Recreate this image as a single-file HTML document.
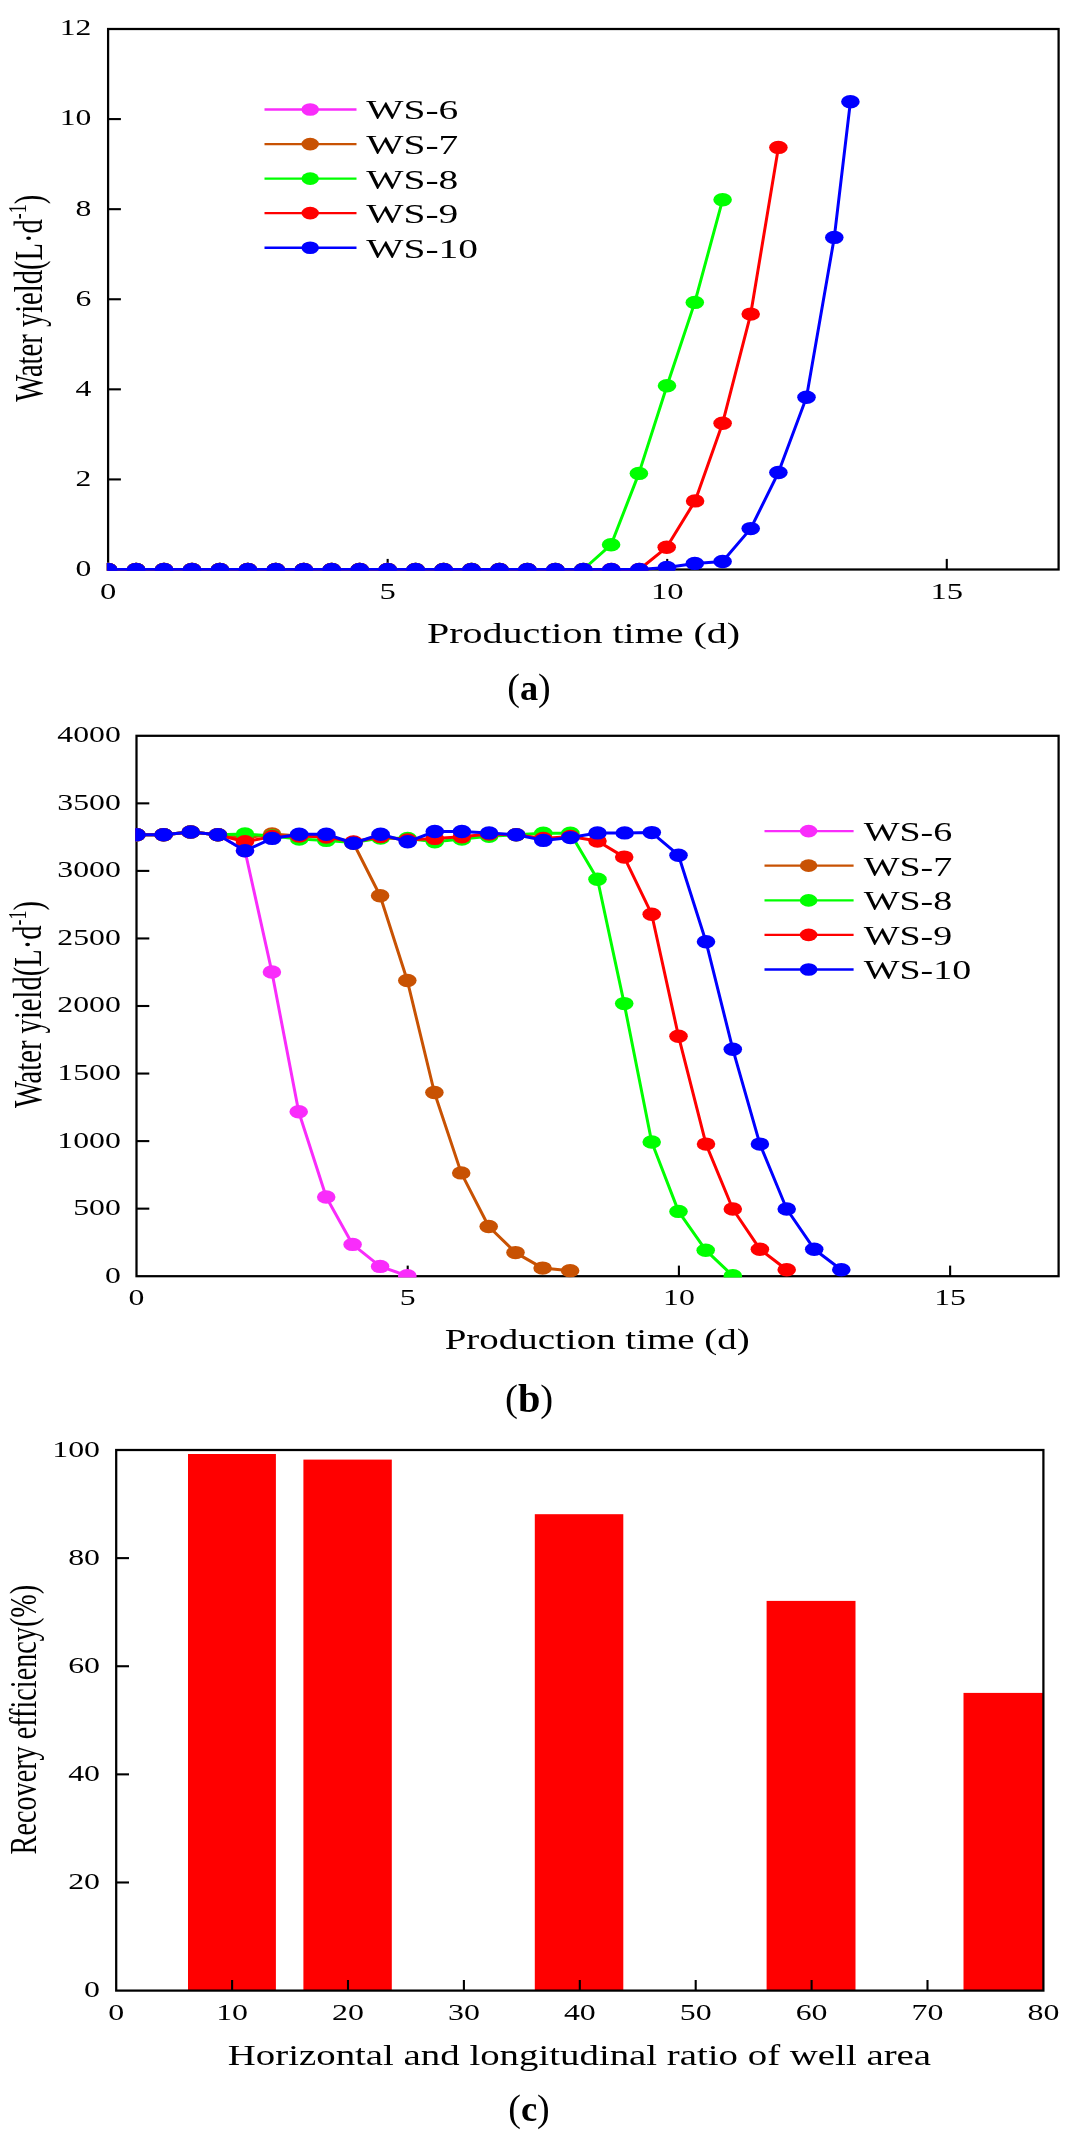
<!DOCTYPE html>
<html><head><meta charset="utf-8"><title>Figure</title>
<style>
html,body{margin:0;padding:0;background:#fff;}
body{width:1077px;height:2148px;overflow:hidden;font-family:"Liberation Serif",serif;}
svg{display:block;filter:blur(0.45px);}
svg text{font-family:"Liberation Serif",serif;fill:#000;}
</style></head>
<body>
<svg width="1077" height="2148" viewBox="0 0 1077 2148">
<rect width="1077" height="2148" fill="#fff"/>
<clipPath id="ca"><rect x="106.8" y="27.7" width="953.10" height="543.10"/></clipPath>
<rect x="108.1" y="29.0" width="950.50" height="540.50" fill="none" stroke="#000" stroke-width="2.25"/>
<line x1="387.66" y1="569.5" x2="387.66" y2="558.9" stroke="#000" stroke-width="2.1"/>
<line x1="667.22" y1="569.5" x2="667.22" y2="558.9" stroke="#000" stroke-width="2.1"/>
<line x1="946.78" y1="569.5" x2="946.78" y2="558.9" stroke="#000" stroke-width="2.1"/>
<line x1="108.1" y1="479.42" x2="120.89999999999999" y2="479.42" stroke="#000" stroke-width="2.1"/>
<line x1="108.1" y1="389.33" x2="120.89999999999999" y2="389.33" stroke="#000" stroke-width="2.1"/>
<line x1="108.1" y1="299.25" x2="120.89999999999999" y2="299.25" stroke="#000" stroke-width="2.1"/>
<line x1="108.1" y1="209.17" x2="120.89999999999999" y2="209.17" stroke="#000" stroke-width="2.1"/>
<line x1="108.1" y1="119.08" x2="120.89999999999999" y2="119.08" stroke="#000" stroke-width="2.1"/>
<text transform="translate(91.40,575.90) scale(1.32,1)" font-size="24" text-anchor="end" font-weight="normal" >0</text>
<text transform="translate(91.40,485.82) scale(1.32,1)" font-size="24" text-anchor="end" font-weight="normal" >2</text>
<text transform="translate(91.40,395.73) scale(1.32,1)" font-size="24" text-anchor="end" font-weight="normal" >4</text>
<text transform="translate(91.40,305.65) scale(1.32,1)" font-size="24" text-anchor="end" font-weight="normal" >6</text>
<text transform="translate(91.40,215.57) scale(1.32,1)" font-size="24" text-anchor="end" font-weight="normal" >8</text>
<text transform="translate(91.40,125.48) scale(1.32,1)" font-size="24" text-anchor="end" font-weight="normal" >10</text>
<text transform="translate(91.40,35.40) scale(1.32,1)" font-size="24" text-anchor="end" font-weight="normal" >12</text>
<text transform="translate(108.10,598.60) scale(1.358,1)" font-size="24" text-anchor="middle" font-weight="normal" >0</text>
<text transform="translate(387.66,598.60) scale(1.358,1)" font-size="24" text-anchor="middle" font-weight="normal" >5</text>
<text transform="translate(667.22,598.60) scale(1.358,1)" font-size="24" text-anchor="middle" font-weight="normal" >10</text>
<text transform="translate(946.78,598.60) scale(1.358,1)" font-size="24" text-anchor="middle" font-weight="normal" >15</text>
<text transform="translate(583.50,643.00) scale(1.404,1)" font-size="28.5" text-anchor="middle" font-weight="normal" >Production time (d)</text>
<text transform="translate(529.00,700.30) scale(1.0,1)" font-size="38" text-anchor="middle" font-weight="normal" >(<tspan font-weight="bold" font-size="36.3" dy="0">a</tspan><tspan dy="0">)</tspan></text>
<text transform="translate(41.80,401.80) rotate(-90) scale(1,1.42)" font-size="28.6" text-anchor="start">Water yield(L·d<tspan font-size="18" dy="-11.4">-1</tspan><tspan dy="11.4">)</tspan></text>
<g clip-path="url(#ca)"><path d="M108.1 569.5 L136.1 569.5 L164.0 569.5 L192.0 569.5 L219.9 569.5 L247.9 569.5 L275.8 569.5 L303.8 569.5 L331.7 569.5 L359.7 569.5 L387.7 569.5" fill="none" stroke="#f92cfb" stroke-width="3.0" stroke-linejoin="round"/><ellipse cx="108.1" cy="569.5" rx="9.3" ry="6.7" fill="#f92cfb"/><ellipse cx="136.1" cy="569.5" rx="9.3" ry="6.7" fill="#f92cfb"/><ellipse cx="164.0" cy="569.5" rx="9.3" ry="6.7" fill="#f92cfb"/><ellipse cx="192.0" cy="569.5" rx="9.3" ry="6.7" fill="#f92cfb"/><ellipse cx="219.9" cy="569.5" rx="9.3" ry="6.7" fill="#f92cfb"/><ellipse cx="247.9" cy="569.5" rx="9.3" ry="6.7" fill="#f92cfb"/><ellipse cx="275.8" cy="569.5" rx="9.3" ry="6.7" fill="#f92cfb"/><ellipse cx="303.8" cy="569.5" rx="9.3" ry="6.7" fill="#f92cfb"/><ellipse cx="331.7" cy="569.5" rx="9.3" ry="6.7" fill="#f92cfb"/><ellipse cx="359.7" cy="569.5" rx="9.3" ry="6.7" fill="#f92cfb"/><ellipse cx="387.7" cy="569.5" rx="9.3" ry="6.7" fill="#f92cfb"/></g>
<g clip-path="url(#ca)"><path d="M108.1 569.5 L136.1 569.5 L164.0 569.5 L192.0 569.5 L219.9 569.5 L247.9 569.5 L275.8 569.5 L303.8 569.5 L331.7 569.5 L359.7 569.5 L387.7 569.5 L415.6 569.5 L443.6 569.5 L471.5 569.5 L499.5 569.5" fill="none" stroke="#c85203" stroke-width="3.0" stroke-linejoin="round"/><ellipse cx="108.1" cy="569.5" rx="9.3" ry="6.7" fill="#c85203"/><ellipse cx="136.1" cy="569.5" rx="9.3" ry="6.7" fill="#c85203"/><ellipse cx="164.0" cy="569.5" rx="9.3" ry="6.7" fill="#c85203"/><ellipse cx="192.0" cy="569.5" rx="9.3" ry="6.7" fill="#c85203"/><ellipse cx="219.9" cy="569.5" rx="9.3" ry="6.7" fill="#c85203"/><ellipse cx="247.9" cy="569.5" rx="9.3" ry="6.7" fill="#c85203"/><ellipse cx="275.8" cy="569.5" rx="9.3" ry="6.7" fill="#c85203"/><ellipse cx="303.8" cy="569.5" rx="9.3" ry="6.7" fill="#c85203"/><ellipse cx="331.7" cy="569.5" rx="9.3" ry="6.7" fill="#c85203"/><ellipse cx="359.7" cy="569.5" rx="9.3" ry="6.7" fill="#c85203"/><ellipse cx="387.7" cy="569.5" rx="9.3" ry="6.7" fill="#c85203"/><ellipse cx="415.6" cy="569.5" rx="9.3" ry="6.7" fill="#c85203"/><ellipse cx="443.6" cy="569.5" rx="9.3" ry="6.7" fill="#c85203"/><ellipse cx="471.5" cy="569.5" rx="9.3" ry="6.7" fill="#c85203"/><ellipse cx="499.5" cy="569.5" rx="9.3" ry="6.7" fill="#c85203"/></g>
<g clip-path="url(#ca)"><path d="M108.1 569.5 L136.1 569.5 L164.0 569.5 L192.0 569.5 L219.9 569.5 L247.9 569.5 L275.8 569.5 L303.8 569.5 L331.7 569.5 L359.7 569.5 L387.7 569.5 L415.6 569.5 L443.6 569.5 L471.5 569.5 L499.5 569.5 L527.4 569.5 L555.4 569.5 L583.3 569.5 L611.1 544.7 L638.9 473.4 L667.0 385.7 L694.8 302.4 L722.6 199.8" fill="none" stroke="#00ff00" stroke-width="3.0" stroke-linejoin="round"/><ellipse cx="108.1" cy="569.5" rx="9.3" ry="6.7" fill="#00ff00"/><ellipse cx="136.1" cy="569.5" rx="9.3" ry="6.7" fill="#00ff00"/><ellipse cx="164.0" cy="569.5" rx="9.3" ry="6.7" fill="#00ff00"/><ellipse cx="192.0" cy="569.5" rx="9.3" ry="6.7" fill="#00ff00"/><ellipse cx="219.9" cy="569.5" rx="9.3" ry="6.7" fill="#00ff00"/><ellipse cx="247.9" cy="569.5" rx="9.3" ry="6.7" fill="#00ff00"/><ellipse cx="275.8" cy="569.5" rx="9.3" ry="6.7" fill="#00ff00"/><ellipse cx="303.8" cy="569.5" rx="9.3" ry="6.7" fill="#00ff00"/><ellipse cx="331.7" cy="569.5" rx="9.3" ry="6.7" fill="#00ff00"/><ellipse cx="359.7" cy="569.5" rx="9.3" ry="6.7" fill="#00ff00"/><ellipse cx="387.7" cy="569.5" rx="9.3" ry="6.7" fill="#00ff00"/><ellipse cx="415.6" cy="569.5" rx="9.3" ry="6.7" fill="#00ff00"/><ellipse cx="443.6" cy="569.5" rx="9.3" ry="6.7" fill="#00ff00"/><ellipse cx="471.5" cy="569.5" rx="9.3" ry="6.7" fill="#00ff00"/><ellipse cx="499.5" cy="569.5" rx="9.3" ry="6.7" fill="#00ff00"/><ellipse cx="527.4" cy="569.5" rx="9.3" ry="6.7" fill="#00ff00"/><ellipse cx="555.4" cy="569.5" rx="9.3" ry="6.7" fill="#00ff00"/><ellipse cx="583.3" cy="569.5" rx="9.3" ry="6.7" fill="#00ff00"/><ellipse cx="611.1" cy="544.7" rx="9.3" ry="6.7" fill="#00ff00"/><ellipse cx="638.9" cy="473.4" rx="9.3" ry="6.7" fill="#00ff00"/><ellipse cx="667.0" cy="385.7" rx="9.3" ry="6.7" fill="#00ff00"/><ellipse cx="694.8" cy="302.4" rx="9.3" ry="6.7" fill="#00ff00"/><ellipse cx="722.6" cy="199.8" rx="9.3" ry="6.7" fill="#00ff00"/></g>
<g clip-path="url(#ca)"><path d="M108.1 569.5 L136.1 569.5 L164.0 569.5 L192.0 569.5 L219.9 569.5 L247.9 569.5 L275.8 569.5 L303.8 569.5 L331.7 569.5 L359.7 569.5 L387.7 569.5 L415.6 569.5 L443.6 569.5 L471.5 569.5 L499.5 569.5 L527.4 569.5 L555.4 569.5 L583.3 569.5 L611.3 569.5 L639.3 569.5 L666.7 547.3 L695.1 500.9 L722.6 423.2 L750.7 314.1 L778.4 147.4" fill="none" stroke="#ff0000" stroke-width="3.0" stroke-linejoin="round"/><ellipse cx="108.1" cy="569.5" rx="9.3" ry="6.7" fill="#ff0000"/><ellipse cx="136.1" cy="569.5" rx="9.3" ry="6.7" fill="#ff0000"/><ellipse cx="164.0" cy="569.5" rx="9.3" ry="6.7" fill="#ff0000"/><ellipse cx="192.0" cy="569.5" rx="9.3" ry="6.7" fill="#ff0000"/><ellipse cx="219.9" cy="569.5" rx="9.3" ry="6.7" fill="#ff0000"/><ellipse cx="247.9" cy="569.5" rx="9.3" ry="6.7" fill="#ff0000"/><ellipse cx="275.8" cy="569.5" rx="9.3" ry="6.7" fill="#ff0000"/><ellipse cx="303.8" cy="569.5" rx="9.3" ry="6.7" fill="#ff0000"/><ellipse cx="331.7" cy="569.5" rx="9.3" ry="6.7" fill="#ff0000"/><ellipse cx="359.7" cy="569.5" rx="9.3" ry="6.7" fill="#ff0000"/><ellipse cx="387.7" cy="569.5" rx="9.3" ry="6.7" fill="#ff0000"/><ellipse cx="415.6" cy="569.5" rx="9.3" ry="6.7" fill="#ff0000"/><ellipse cx="443.6" cy="569.5" rx="9.3" ry="6.7" fill="#ff0000"/><ellipse cx="471.5" cy="569.5" rx="9.3" ry="6.7" fill="#ff0000"/><ellipse cx="499.5" cy="569.5" rx="9.3" ry="6.7" fill="#ff0000"/><ellipse cx="527.4" cy="569.5" rx="9.3" ry="6.7" fill="#ff0000"/><ellipse cx="555.4" cy="569.5" rx="9.3" ry="6.7" fill="#ff0000"/><ellipse cx="583.3" cy="569.5" rx="9.3" ry="6.7" fill="#ff0000"/><ellipse cx="611.3" cy="569.5" rx="9.3" ry="6.7" fill="#ff0000"/><ellipse cx="639.3" cy="569.5" rx="9.3" ry="6.7" fill="#ff0000"/><ellipse cx="666.7" cy="547.3" rx="9.3" ry="6.7" fill="#ff0000"/><ellipse cx="695.1" cy="500.9" rx="9.3" ry="6.7" fill="#ff0000"/><ellipse cx="722.6" cy="423.2" rx="9.3" ry="6.7" fill="#ff0000"/><ellipse cx="750.7" cy="314.1" rx="9.3" ry="6.7" fill="#ff0000"/><ellipse cx="778.4" cy="147.4" rx="9.3" ry="6.7" fill="#ff0000"/></g>
<g clip-path="url(#ca)"><path d="M108.1 569.5 L136.1 569.5 L164.0 569.5 L192.0 569.5 L219.9 569.5 L247.9 569.5 L275.8 569.5 L303.8 569.5 L331.7 569.5 L359.7 569.5 L387.7 569.5 L415.6 569.5 L443.6 569.5 L471.5 569.5 L499.5 569.5 L527.4 569.5 L555.4 569.5 L583.3 569.5 L611.3 569.5 L639.3 569.5 L666.9 567.4 L694.8 563.4 L722.6 561.5 L750.7 528.6 L778.4 472.5 L806.5 397.3 L834.3 237.4 L850.4 101.7" fill="none" stroke="#0000ff" stroke-width="3.0" stroke-linejoin="round"/><ellipse cx="108.1" cy="569.5" rx="9.3" ry="6.7" fill="#0000ff"/><ellipse cx="136.1" cy="569.5" rx="9.3" ry="6.7" fill="#0000ff"/><ellipse cx="164.0" cy="569.5" rx="9.3" ry="6.7" fill="#0000ff"/><ellipse cx="192.0" cy="569.5" rx="9.3" ry="6.7" fill="#0000ff"/><ellipse cx="219.9" cy="569.5" rx="9.3" ry="6.7" fill="#0000ff"/><ellipse cx="247.9" cy="569.5" rx="9.3" ry="6.7" fill="#0000ff"/><ellipse cx="275.8" cy="569.5" rx="9.3" ry="6.7" fill="#0000ff"/><ellipse cx="303.8" cy="569.5" rx="9.3" ry="6.7" fill="#0000ff"/><ellipse cx="331.7" cy="569.5" rx="9.3" ry="6.7" fill="#0000ff"/><ellipse cx="359.7" cy="569.5" rx="9.3" ry="6.7" fill="#0000ff"/><ellipse cx="387.7" cy="569.5" rx="9.3" ry="6.7" fill="#0000ff"/><ellipse cx="415.6" cy="569.5" rx="9.3" ry="6.7" fill="#0000ff"/><ellipse cx="443.6" cy="569.5" rx="9.3" ry="6.7" fill="#0000ff"/><ellipse cx="471.5" cy="569.5" rx="9.3" ry="6.7" fill="#0000ff"/><ellipse cx="499.5" cy="569.5" rx="9.3" ry="6.7" fill="#0000ff"/><ellipse cx="527.4" cy="569.5" rx="9.3" ry="6.7" fill="#0000ff"/><ellipse cx="555.4" cy="569.5" rx="9.3" ry="6.7" fill="#0000ff"/><ellipse cx="583.3" cy="569.5" rx="9.3" ry="6.7" fill="#0000ff"/><ellipse cx="611.3" cy="569.5" rx="9.3" ry="6.7" fill="#0000ff"/><ellipse cx="639.3" cy="569.5" rx="9.3" ry="6.7" fill="#0000ff"/><ellipse cx="666.9" cy="567.4" rx="9.3" ry="6.7" fill="#0000ff"/><ellipse cx="694.8" cy="563.4" rx="9.3" ry="6.7" fill="#0000ff"/><ellipse cx="722.6" cy="561.5" rx="9.3" ry="6.7" fill="#0000ff"/><ellipse cx="750.7" cy="528.6" rx="9.3" ry="6.7" fill="#0000ff"/><ellipse cx="778.4" cy="472.5" rx="9.3" ry="6.7" fill="#0000ff"/><ellipse cx="806.5" cy="397.3" rx="9.3" ry="6.7" fill="#0000ff"/><ellipse cx="834.3" cy="237.4" rx="9.3" ry="6.7" fill="#0000ff"/><ellipse cx="850.4" cy="101.7" rx="9.3" ry="6.7" fill="#0000ff"/></g>
<line x1="264.5" y1="109.5" x2="356.5" y2="109.5" stroke="#f92cfb" stroke-width="2.4"/><ellipse cx="310.2" cy="109.5" rx="8.8" ry="6.3" fill="#f92cfb"/><text transform="translate(366.30,119.40) scale(1.46,1)" font-size="27" text-anchor="start" font-weight="normal" >WS-6</text><line x1="264.5" y1="144.1" x2="356.5" y2="144.1" stroke="#c85203" stroke-width="2.4"/><ellipse cx="310.2" cy="144.1" rx="8.8" ry="6.3" fill="#c85203"/><text transform="translate(366.30,154.00) scale(1.46,1)" font-size="27" text-anchor="start" font-weight="normal" >WS-7</text><line x1="264.5" y1="178.6" x2="356.5" y2="178.6" stroke="#00ff00" stroke-width="2.4"/><ellipse cx="310.2" cy="178.6" rx="8.8" ry="6.3" fill="#00ff00"/><text transform="translate(366.30,188.50) scale(1.46,1)" font-size="27" text-anchor="start" font-weight="normal" >WS-8</text><line x1="264.5" y1="213.1" x2="356.5" y2="213.1" stroke="#ff0000" stroke-width="2.4"/><ellipse cx="310.2" cy="213.1" rx="8.8" ry="6.3" fill="#ff0000"/><text transform="translate(366.30,223.00) scale(1.46,1)" font-size="27" text-anchor="start" font-weight="normal" >WS-9</text><line x1="264.5" y1="247.7" x2="356.5" y2="247.7" stroke="#0000ff" stroke-width="2.4"/><ellipse cx="310.2" cy="247.7" rx="8.8" ry="6.3" fill="#0000ff"/><text transform="translate(366.30,257.60) scale(1.46,1)" font-size="27" text-anchor="start" font-weight="normal" >WS-10</text>
<clipPath id="cb"><rect x="135.2" y="734.5" width="924.70" height="543.00"/></clipPath>
<rect x="136.5" y="735.8" width="922.10" height="540.40" fill="none" stroke="#000" stroke-width="2.25"/>
<line x1="407.71" y1="1276.2" x2="407.71" y2="1265.6000000000001" stroke="#000" stroke-width="2.1"/>
<line x1="678.91" y1="1276.2" x2="678.91" y2="1265.6000000000001" stroke="#000" stroke-width="2.1"/>
<line x1="950.12" y1="1276.2" x2="950.12" y2="1265.6000000000001" stroke="#000" stroke-width="2.1"/>
<line x1="136.5" y1="1208.65" x2="149.3" y2="1208.65" stroke="#000" stroke-width="2.1"/>
<line x1="136.5" y1="1141.10" x2="149.3" y2="1141.10" stroke="#000" stroke-width="2.1"/>
<line x1="136.5" y1="1073.55" x2="149.3" y2="1073.55" stroke="#000" stroke-width="2.1"/>
<line x1="136.5" y1="1006.00" x2="149.3" y2="1006.00" stroke="#000" stroke-width="2.1"/>
<line x1="136.5" y1="938.45" x2="149.3" y2="938.45" stroke="#000" stroke-width="2.1"/>
<line x1="136.5" y1="870.90" x2="149.3" y2="870.90" stroke="#000" stroke-width="2.1"/>
<line x1="136.5" y1="803.35" x2="149.3" y2="803.35" stroke="#000" stroke-width="2.1"/>
<text transform="translate(120.80,1282.60) scale(1.322,1)" font-size="24" text-anchor="end" font-weight="normal" >0</text>
<text transform="translate(120.80,1215.05) scale(1.322,1)" font-size="24" text-anchor="end" font-weight="normal" >500</text>
<text transform="translate(120.80,1147.50) scale(1.322,1)" font-size="24" text-anchor="end" font-weight="normal" >1000</text>
<text transform="translate(120.80,1079.95) scale(1.322,1)" font-size="24" text-anchor="end" font-weight="normal" >1500</text>
<text transform="translate(120.80,1012.40) scale(1.322,1)" font-size="24" text-anchor="end" font-weight="normal" >2000</text>
<text transform="translate(120.80,944.85) scale(1.322,1)" font-size="24" text-anchor="end" font-weight="normal" >2500</text>
<text transform="translate(120.80,877.30) scale(1.322,1)" font-size="24" text-anchor="end" font-weight="normal" >3000</text>
<text transform="translate(120.80,809.75) scale(1.322,1)" font-size="24" text-anchor="end" font-weight="normal" >3500</text>
<text transform="translate(120.80,742.20) scale(1.322,1)" font-size="24" text-anchor="end" font-weight="normal" >4000</text>
<text transform="translate(136.50,1305.30) scale(1.322,1)" font-size="24" text-anchor="middle" font-weight="normal" >0</text>
<text transform="translate(407.71,1305.30) scale(1.322,1)" font-size="24" text-anchor="middle" font-weight="normal" >5</text>
<text transform="translate(678.91,1305.30) scale(1.322,1)" font-size="24" text-anchor="middle" font-weight="normal" >10</text>
<text transform="translate(950.12,1305.30) scale(1.322,1)" font-size="24" text-anchor="middle" font-weight="normal" >15</text>
<text transform="translate(597.20,1349.10) scale(1.367,1)" font-size="28.5" text-anchor="middle" font-weight="normal" >Production time (d)</text>
<text transform="translate(529.10,1411.00) scale(1.02,1)" font-size="38" text-anchor="middle" font-weight="normal" >(<tspan font-weight="bold" font-size="39.5" dy="1.0">b</tspan><tspan dy="-1.0">)</tspan></text>
<text transform="translate(41.20,1108.10) rotate(-90) scale(1,1.37)" font-size="28.6" text-anchor="start">Water yield(L·d<tspan font-size="18" dy="-11.4">-1</tspan><tspan dy="11.4">)</tspan></text>
<g clip-path="url(#cb)"><path d="M136.5 834.8 L163.6 834.8 L190.7 832.0 L217.9 834.8 L245.0 850.7 L271.9 972.0 L298.7 1111.8 L326.2 1197.0 L352.6 1244.4 L380.1 1266.4 L407.3 1275.8" fill="none" stroke="#f92cfb" stroke-width="3.0" stroke-linejoin="round"/><ellipse cx="136.5" cy="834.8" rx="9.3" ry="6.7" fill="#f92cfb"/><ellipse cx="163.6" cy="834.8" rx="9.3" ry="6.7" fill="#f92cfb"/><ellipse cx="190.7" cy="832.0" rx="9.3" ry="6.7" fill="#f92cfb"/><ellipse cx="217.9" cy="834.8" rx="9.3" ry="6.7" fill="#f92cfb"/><ellipse cx="245.0" cy="850.7" rx="9.3" ry="6.7" fill="#f92cfb"/><ellipse cx="271.9" cy="972.0" rx="9.3" ry="6.7" fill="#f92cfb"/><ellipse cx="298.7" cy="1111.8" rx="9.3" ry="6.7" fill="#f92cfb"/><ellipse cx="326.2" cy="1197.0" rx="9.3" ry="6.7" fill="#f92cfb"/><ellipse cx="352.6" cy="1244.4" rx="9.3" ry="6.7" fill="#f92cfb"/><ellipse cx="380.1" cy="1266.4" rx="9.3" ry="6.7" fill="#f92cfb"/><ellipse cx="407.3" cy="1275.8" rx="9.3" ry="6.7" fill="#f92cfb"/></g>
<g clip-path="url(#cb)"><path d="M136.5 834.8 L163.6 834.8 L190.7 832.0 L217.9 834.8 L245.0 838.0 L272.1 834.0 L299.2 836.0 L326.3 836.0 L353.5 843.2 L380.1 895.7 L407.3 980.5 L434.4 1092.5 L461.2 1172.9 L488.7 1226.5 L515.5 1252.6 L542.6 1268.1 L570.1 1270.8" fill="none" stroke="#c85203" stroke-width="3.0" stroke-linejoin="round"/><ellipse cx="136.5" cy="834.8" rx="9.3" ry="6.7" fill="#c85203"/><ellipse cx="163.6" cy="834.8" rx="9.3" ry="6.7" fill="#c85203"/><ellipse cx="190.7" cy="832.0" rx="9.3" ry="6.7" fill="#c85203"/><ellipse cx="217.9" cy="834.8" rx="9.3" ry="6.7" fill="#c85203"/><ellipse cx="245.0" cy="838.0" rx="9.3" ry="6.7" fill="#c85203"/><ellipse cx="272.1" cy="834.0" rx="9.3" ry="6.7" fill="#c85203"/><ellipse cx="299.2" cy="836.0" rx="9.3" ry="6.7" fill="#c85203"/><ellipse cx="326.3" cy="836.0" rx="9.3" ry="6.7" fill="#c85203"/><ellipse cx="353.5" cy="843.2" rx="9.3" ry="6.7" fill="#c85203"/><ellipse cx="380.1" cy="895.7" rx="9.3" ry="6.7" fill="#c85203"/><ellipse cx="407.3" cy="980.5" rx="9.3" ry="6.7" fill="#c85203"/><ellipse cx="434.4" cy="1092.5" rx="9.3" ry="6.7" fill="#c85203"/><ellipse cx="461.2" cy="1172.9" rx="9.3" ry="6.7" fill="#c85203"/><ellipse cx="488.7" cy="1226.5" rx="9.3" ry="6.7" fill="#c85203"/><ellipse cx="515.5" cy="1252.6" rx="9.3" ry="6.7" fill="#c85203"/><ellipse cx="542.6" cy="1268.1" rx="9.3" ry="6.7" fill="#c85203"/><ellipse cx="570.1" cy="1270.8" rx="9.3" ry="6.7" fill="#c85203"/></g>
<g clip-path="url(#cb)"><path d="M136.5 834.8 L163.6 834.8 L190.7 832.0 L217.9 834.8 L245.0 834.0 L272.1 836.0 L299.2 839.0 L326.3 840.4 L353.5 842.5 L380.6 838.0 L407.7 838.5 L434.8 841.8 L461.9 839.0 L489.1 836.2 L516.2 834.8 L543.3 833.3 L570.4 833.3 L597.5 879.3 L624.2 1003.6 L651.7 1142.0 L678.5 1211.4 L705.7 1250.2 L732.8 1275.8" fill="none" stroke="#00ff00" stroke-width="3.0" stroke-linejoin="round"/><ellipse cx="136.5" cy="834.8" rx="9.3" ry="6.7" fill="#00ff00"/><ellipse cx="163.6" cy="834.8" rx="9.3" ry="6.7" fill="#00ff00"/><ellipse cx="190.7" cy="832.0" rx="9.3" ry="6.7" fill="#00ff00"/><ellipse cx="217.9" cy="834.8" rx="9.3" ry="6.7" fill="#00ff00"/><ellipse cx="245.0" cy="834.0" rx="9.3" ry="6.7" fill="#00ff00"/><ellipse cx="272.1" cy="836.0" rx="9.3" ry="6.7" fill="#00ff00"/><ellipse cx="299.2" cy="839.0" rx="9.3" ry="6.7" fill="#00ff00"/><ellipse cx="326.3" cy="840.4" rx="9.3" ry="6.7" fill="#00ff00"/><ellipse cx="353.5" cy="842.5" rx="9.3" ry="6.7" fill="#00ff00"/><ellipse cx="380.6" cy="838.0" rx="9.3" ry="6.7" fill="#00ff00"/><ellipse cx="407.7" cy="838.5" rx="9.3" ry="6.7" fill="#00ff00"/><ellipse cx="434.8" cy="841.8" rx="9.3" ry="6.7" fill="#00ff00"/><ellipse cx="461.9" cy="839.0" rx="9.3" ry="6.7" fill="#00ff00"/><ellipse cx="489.1" cy="836.2" rx="9.3" ry="6.7" fill="#00ff00"/><ellipse cx="516.2" cy="834.8" rx="9.3" ry="6.7" fill="#00ff00"/><ellipse cx="543.3" cy="833.3" rx="9.3" ry="6.7" fill="#00ff00"/><ellipse cx="570.4" cy="833.3" rx="9.3" ry="6.7" fill="#00ff00"/><ellipse cx="597.5" cy="879.3" rx="9.3" ry="6.7" fill="#00ff00"/><ellipse cx="624.2" cy="1003.6" rx="9.3" ry="6.7" fill="#00ff00"/><ellipse cx="651.7" cy="1142.0" rx="9.3" ry="6.7" fill="#00ff00"/><ellipse cx="678.5" cy="1211.4" rx="9.3" ry="6.7" fill="#00ff00"/><ellipse cx="705.7" cy="1250.2" rx="9.3" ry="6.7" fill="#00ff00"/><ellipse cx="732.8" cy="1275.8" rx="9.3" ry="6.7" fill="#00ff00"/></g>
<g clip-path="url(#cb)"><path d="M136.5 834.8 L163.6 834.8 L190.7 832.0 L217.9 834.8 L245.0 841.8 L272.1 836.5 L299.2 836.0 L326.3 837.0 L353.5 842.0 L380.6 836.5 L407.7 840.0 L434.8 838.4 L461.9 836.8 L489.1 834.0 L516.2 834.8 L543.3 838.5 L570.4 836.5 L597.5 841.0 L624.2 857.1 L651.7 914.2 L678.5 1036.2 L706.0 1144.1 L732.8 1209.0 L759.9 1249.2 L786.7 1269.8" fill="none" stroke="#ff0000" stroke-width="3.0" stroke-linejoin="round"/><ellipse cx="136.5" cy="834.8" rx="9.3" ry="6.7" fill="#ff0000"/><ellipse cx="163.6" cy="834.8" rx="9.3" ry="6.7" fill="#ff0000"/><ellipse cx="190.7" cy="832.0" rx="9.3" ry="6.7" fill="#ff0000"/><ellipse cx="217.9" cy="834.8" rx="9.3" ry="6.7" fill="#ff0000"/><ellipse cx="245.0" cy="841.8" rx="9.3" ry="6.7" fill="#ff0000"/><ellipse cx="272.1" cy="836.5" rx="9.3" ry="6.7" fill="#ff0000"/><ellipse cx="299.2" cy="836.0" rx="9.3" ry="6.7" fill="#ff0000"/><ellipse cx="326.3" cy="837.0" rx="9.3" ry="6.7" fill="#ff0000"/><ellipse cx="353.5" cy="842.0" rx="9.3" ry="6.7" fill="#ff0000"/><ellipse cx="380.6" cy="836.5" rx="9.3" ry="6.7" fill="#ff0000"/><ellipse cx="407.7" cy="840.0" rx="9.3" ry="6.7" fill="#ff0000"/><ellipse cx="434.8" cy="838.4" rx="9.3" ry="6.7" fill="#ff0000"/><ellipse cx="461.9" cy="836.8" rx="9.3" ry="6.7" fill="#ff0000"/><ellipse cx="489.1" cy="834.0" rx="9.3" ry="6.7" fill="#ff0000"/><ellipse cx="516.2" cy="834.8" rx="9.3" ry="6.7" fill="#ff0000"/><ellipse cx="543.3" cy="838.5" rx="9.3" ry="6.7" fill="#ff0000"/><ellipse cx="570.4" cy="836.5" rx="9.3" ry="6.7" fill="#ff0000"/><ellipse cx="597.5" cy="841.0" rx="9.3" ry="6.7" fill="#ff0000"/><ellipse cx="624.2" cy="857.1" rx="9.3" ry="6.7" fill="#ff0000"/><ellipse cx="651.7" cy="914.2" rx="9.3" ry="6.7" fill="#ff0000"/><ellipse cx="678.5" cy="1036.2" rx="9.3" ry="6.7" fill="#ff0000"/><ellipse cx="706.0" cy="1144.1" rx="9.3" ry="6.7" fill="#ff0000"/><ellipse cx="732.8" cy="1209.0" rx="9.3" ry="6.7" fill="#ff0000"/><ellipse cx="759.9" cy="1249.2" rx="9.3" ry="6.7" fill="#ff0000"/><ellipse cx="786.7" cy="1269.8" rx="9.3" ry="6.7" fill="#ff0000"/></g>
<g clip-path="url(#cb)"><path d="M136.5 834.8 L163.6 834.8 L190.7 832.0 L217.9 834.8 L245.0 850.7 L272.1 838.4 L299.2 834.3 L326.3 834.3 L353.5 843.2 L380.6 834.3 L407.7 841.8 L434.8 831.5 L461.9 831.5 L489.1 832.9 L516.2 834.8 L543.3 840.4 L570.4 837.6 L597.5 832.9 L624.7 832.9 L651.8 832.6 L678.5 855.2 L706.0 941.7 L732.8 1049.2 L759.9 1144.1 L786.7 1209.0 L814.2 1249.2 L841.3 1269.8" fill="none" stroke="#0000ff" stroke-width="3.0" stroke-linejoin="round"/><ellipse cx="136.5" cy="834.8" rx="9.3" ry="6.7" fill="#0000ff"/><ellipse cx="163.6" cy="834.8" rx="9.3" ry="6.7" fill="#0000ff"/><ellipse cx="190.7" cy="832.0" rx="9.3" ry="6.7" fill="#0000ff"/><ellipse cx="217.9" cy="834.8" rx="9.3" ry="6.7" fill="#0000ff"/><ellipse cx="245.0" cy="850.7" rx="9.3" ry="6.7" fill="#0000ff"/><ellipse cx="272.1" cy="838.4" rx="9.3" ry="6.7" fill="#0000ff"/><ellipse cx="299.2" cy="834.3" rx="9.3" ry="6.7" fill="#0000ff"/><ellipse cx="326.3" cy="834.3" rx="9.3" ry="6.7" fill="#0000ff"/><ellipse cx="353.5" cy="843.2" rx="9.3" ry="6.7" fill="#0000ff"/><ellipse cx="380.6" cy="834.3" rx="9.3" ry="6.7" fill="#0000ff"/><ellipse cx="407.7" cy="841.8" rx="9.3" ry="6.7" fill="#0000ff"/><ellipse cx="434.8" cy="831.5" rx="9.3" ry="6.7" fill="#0000ff"/><ellipse cx="461.9" cy="831.5" rx="9.3" ry="6.7" fill="#0000ff"/><ellipse cx="489.1" cy="832.9" rx="9.3" ry="6.7" fill="#0000ff"/><ellipse cx="516.2" cy="834.8" rx="9.3" ry="6.7" fill="#0000ff"/><ellipse cx="543.3" cy="840.4" rx="9.3" ry="6.7" fill="#0000ff"/><ellipse cx="570.4" cy="837.6" rx="9.3" ry="6.7" fill="#0000ff"/><ellipse cx="597.5" cy="832.9" rx="9.3" ry="6.7" fill="#0000ff"/><ellipse cx="624.7" cy="832.9" rx="9.3" ry="6.7" fill="#0000ff"/><ellipse cx="651.8" cy="832.6" rx="9.3" ry="6.7" fill="#0000ff"/><ellipse cx="678.5" cy="855.2" rx="9.3" ry="6.7" fill="#0000ff"/><ellipse cx="706.0" cy="941.7" rx="9.3" ry="6.7" fill="#0000ff"/><ellipse cx="732.8" cy="1049.2" rx="9.3" ry="6.7" fill="#0000ff"/><ellipse cx="759.9" cy="1144.1" rx="9.3" ry="6.7" fill="#0000ff"/><ellipse cx="786.7" cy="1209.0" rx="9.3" ry="6.7" fill="#0000ff"/><ellipse cx="814.2" cy="1249.2" rx="9.3" ry="6.7" fill="#0000ff"/><ellipse cx="841.3" cy="1269.8" rx="9.3" ry="6.7" fill="#0000ff"/></g>
<line x1="764.5" y1="831.1" x2="853.6" y2="831.1" stroke="#f92cfb" stroke-width="2.4"/><ellipse cx="808.6" cy="831.1" rx="8.8" ry="6.3" fill="#f92cfb"/><text transform="translate(863.70,841.00) scale(1.405,1)" font-size="27" text-anchor="start" font-weight="normal" >WS-6</text><line x1="764.5" y1="865.6" x2="853.6" y2="865.6" stroke="#c85203" stroke-width="2.4"/><ellipse cx="808.6" cy="865.6" rx="8.8" ry="6.3" fill="#c85203"/><text transform="translate(863.70,875.50) scale(1.405,1)" font-size="27" text-anchor="start" font-weight="normal" >WS-7</text><line x1="764.5" y1="900.4" x2="853.6" y2="900.4" stroke="#00ff00" stroke-width="2.4"/><ellipse cx="808.6" cy="900.4" rx="8.8" ry="6.3" fill="#00ff00"/><text transform="translate(863.70,910.30) scale(1.405,1)" font-size="27" text-anchor="start" font-weight="normal" >WS-8</text><line x1="764.5" y1="934.9" x2="853.6" y2="934.9" stroke="#ff0000" stroke-width="2.4"/><ellipse cx="808.6" cy="934.9" rx="8.8" ry="6.3" fill="#ff0000"/><text transform="translate(863.70,944.80) scale(1.405,1)" font-size="27" text-anchor="start" font-weight="normal" >WS-9</text><line x1="764.5" y1="969.5" x2="853.6" y2="969.5" stroke="#0000ff" stroke-width="2.4"/><ellipse cx="808.6" cy="969.5" rx="8.8" ry="6.3" fill="#0000ff"/><text transform="translate(863.70,979.40) scale(1.405,1)" font-size="27" text-anchor="start" font-weight="normal" >WS-10</text>
<rect x="188.0" y="1454.0" width="87.90" height="536.60" fill="#ff0000"/>
<rect x="303.4" y="1459.6" width="88.40" height="531.00" fill="#ff0000"/>
<rect x="534.8" y="1514.2" width="88.50" height="476.40" fill="#ff0000"/>
<rect x="766.6" y="1600.9" width="88.90" height="389.70" fill="#ff0000"/>
<rect x="963.5" y="1692.9" width="79.90" height="297.70" fill="#ff0000"/>
<rect x="116.2" y="1450.0" width="927.20" height="540.60" fill="none" stroke="#000" stroke-width="2.25"/>
<line x1="232.10" y1="1990.6" x2="232.10" y2="1980.0" stroke="#000" stroke-width="2.1"/>
<line x1="348.00" y1="1990.6" x2="348.00" y2="1980.0" stroke="#000" stroke-width="2.1"/>
<line x1="463.90" y1="1990.6" x2="463.90" y2="1980.0" stroke="#000" stroke-width="2.1"/>
<line x1="579.80" y1="1990.6" x2="579.80" y2="1980.0" stroke="#000" stroke-width="2.1"/>
<line x1="695.70" y1="1990.6" x2="695.70" y2="1980.0" stroke="#000" stroke-width="2.1"/>
<line x1="811.60" y1="1990.6" x2="811.60" y2="1980.0" stroke="#000" stroke-width="2.1"/>
<line x1="927.50" y1="1990.6" x2="927.50" y2="1980.0" stroke="#000" stroke-width="2.1"/>
<line x1="116.2" y1="1882.48" x2="129.0" y2="1882.48" stroke="#000" stroke-width="2.1"/>
<line x1="116.2" y1="1774.36" x2="129.0" y2="1774.36" stroke="#000" stroke-width="2.1"/>
<line x1="116.2" y1="1666.24" x2="129.0" y2="1666.24" stroke="#000" stroke-width="2.1"/>
<line x1="116.2" y1="1558.12" x2="129.0" y2="1558.12" stroke="#000" stroke-width="2.1"/>
<text transform="translate(100.00,1997.10) scale(1.327,1)" font-size="24" text-anchor="end" font-weight="normal" >0</text>
<text transform="translate(100.00,1888.98) scale(1.327,1)" font-size="24" text-anchor="end" font-weight="normal" >20</text>
<text transform="translate(100.00,1780.86) scale(1.327,1)" font-size="24" text-anchor="end" font-weight="normal" >40</text>
<text transform="translate(100.00,1672.74) scale(1.327,1)" font-size="24" text-anchor="end" font-weight="normal" >60</text>
<text transform="translate(100.00,1564.62) scale(1.327,1)" font-size="24" text-anchor="end" font-weight="normal" >80</text>
<text transform="translate(100.00,1456.50) scale(1.327,1)" font-size="24" text-anchor="end" font-weight="normal" >100</text>
<text transform="translate(116.20,2020.40) scale(1.327,1)" font-size="24" text-anchor="middle" font-weight="normal" >0</text>
<text transform="translate(232.10,2020.40) scale(1.327,1)" font-size="24" text-anchor="middle" font-weight="normal" >10</text>
<text transform="translate(348.00,2020.40) scale(1.327,1)" font-size="24" text-anchor="middle" font-weight="normal" >20</text>
<text transform="translate(463.90,2020.40) scale(1.327,1)" font-size="24" text-anchor="middle" font-weight="normal" >30</text>
<text transform="translate(579.80,2020.40) scale(1.327,1)" font-size="24" text-anchor="middle" font-weight="normal" >40</text>
<text transform="translate(695.70,2020.40) scale(1.327,1)" font-size="24" text-anchor="middle" font-weight="normal" >50</text>
<text transform="translate(811.60,2020.40) scale(1.327,1)" font-size="24" text-anchor="middle" font-weight="normal" >60</text>
<text transform="translate(927.50,2020.40) scale(1.327,1)" font-size="24" text-anchor="middle" font-weight="normal" >70</text>
<text transform="translate(1043.40,2020.40) scale(1.327,1)" font-size="24" text-anchor="middle" font-weight="normal" >80</text>
<text transform="translate(579.40,2064.50) scale(1.3635,1)" font-size="28.5" text-anchor="middle" font-weight="normal" >Horizontal and longitudinal ratio of well area</text>
<text transform="translate(529.00,2120.90) scale(1.0,1)" font-size="38" text-anchor="middle" font-weight="normal" >(<tspan font-weight="bold" font-size="36.5" dy="0">c</tspan><tspan dy="0">)</tspan></text>
<text transform="translate(36.30,1854.40) rotate(-90) scale(1,1.36)" font-size="28.2" text-anchor="start">Recovery efficiency(%)</text>
</svg>
</body></html>
